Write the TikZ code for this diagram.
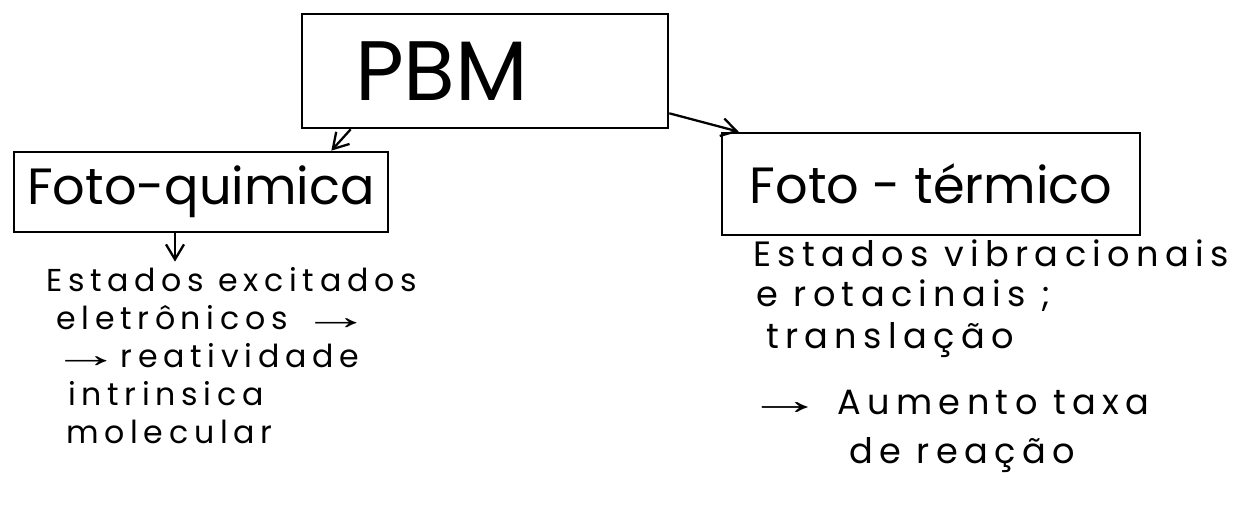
\documentclass[tikz,border=0pt]{standalone}
\usepackage{fontspec}
\setmainfont{Poppins}
\newfontfamily\handfont[LetterSpace=18]{Poppins}
\newfontfamily\arrowfont{Liberation Sans}
\usepackage{graphicx}
\newcommand{\toarrow}{\scalebox{2.2}[1.2]{\arrowfont →}}
\usepackage{tikz}
\usetikzlibrary{arrows.meta, positioning}

\begin{document}
\begin{tikzpicture}[
line width=1.4pt,
mainbox/.style={
rectangle,
draw=black,
line width=1.5pt,
align=left,
minimum width=7.32cm,
minimum height=2.28cm,
text width=5.2cm,
inner xsep=1.06cm,
font=\fontsize{48}{52}\selectfont
},
branchbox/.style={
rectangle,
draw=black,
line width=1.5pt,
align=center,
font=\fontsize{29}{33}\selectfont
},
handline/.style={
anchor=west,
inner sep=0pt,
font=\handfont\fontsize{18}{22}\selectfont
},
handwide/.style={
handline,
font=\handfont\fontsize{20}{24}\selectfont
},
flow/.style={
-{Straight Barb[length=3mm,width=3.6mm]},
line width=1.3pt
}
]

\useasboundingbox (0,0) rectangle (24.78,10.36);

% top box and the two branches
\node[mainbox] (pbm) at (9.70,8.94) {PBM};

\node[branchbox, minimum width=7.48cm, minimum height=1.6cm] (fq) at (4.02,6.52)
{Foto-quimica};

\node[branchbox, minimum width=8.36cm, minimum height=2.04cm] (ft) at (18.62,6.68)
{Foto - térmico};

% left column of notes
\node[handline] (fq1) at (0.90,4.76) {Estados excitados};
\node[handline] (fq2) at (1.10,4.00) {eletrônicos \toarrow};
\node[handline] (fq3) at (1.00,3.24) {\toarrow reatividade};
\node[handline] (fq4) at (1.34,2.48) {intrinsica};
\node[handline] (fq5) at (1.30,1.72) {molecular};

% right column of notes
\node[handwide] (ft1) at (15.04,5.30) {Estados vibracionais};
\node[handwide] (ft2) at (15.10,4.44) {e rotacinais ;};
\node[handwide] (ft3) at (15.30,3.56) {translação};
\node[handwide] (ft4) at (14.90,2.32) {\toarrow\hspace{0.4em}Aumento taxa};
\node[handwide] (ft5) at (16.96,1.26) {de reação};

% arrows
\draw[flow] ([xshift=1.0cm]pbm.south west) -- ([xshift=-1.16cm]fq.north east);
\draw[flow] ([yshift=0.32cm]pbm.south east) -- ([xshift=0.36cm]ft.north west);
\draw[flow] ([xshift=-0.52cm]fq.south) -- ([xshift=-0.52cm,yshift=0.1cm]fq.south |- fq1.north);

\end{tikzpicture}
\end{document}
